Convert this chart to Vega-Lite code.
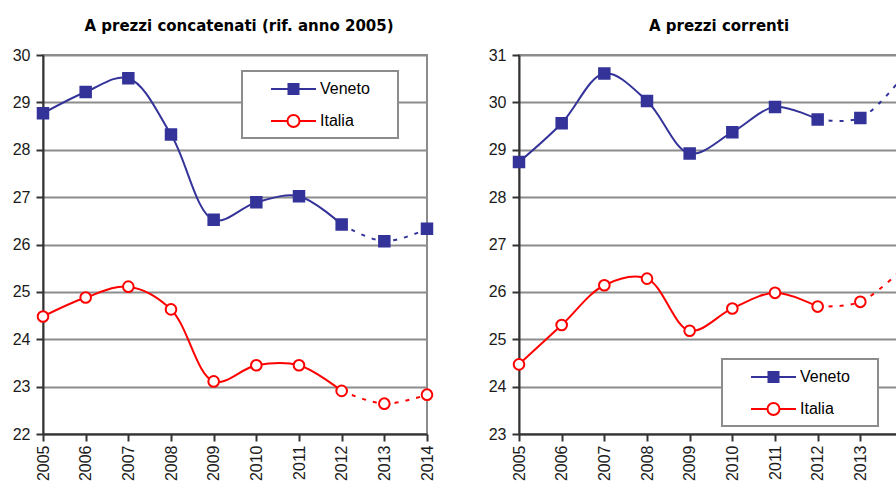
{
  "$schema": "https://vega.github.io/schema/vega-lite/v6.json",
  "padding": {"left": 11, "top": 18, "right": 0, "bottom": 0},
  "background": "white",
  "spacing": 49,
  "data": {"values": [
    {"panel": "conc", "series": "Veneto", "year": 2005, "value": 28.77},
    {"panel": "conc", "series": "Veneto", "year": 2006, "value": 29.22},
    {"panel": "conc", "series": "Veneto", "year": 2007, "value": 29.51},
    {"panel": "conc", "series": "Veneto", "year": 2008, "value": 28.32},
    {"panel": "conc", "series": "Veneto", "year": 2009, "value": 26.52},
    {"panel": "conc", "series": "Veneto", "year": 2010, "value": 26.89},
    {"panel": "conc", "series": "Veneto", "year": 2011, "value": 27.02},
    {"panel": "conc", "series": "Veneto", "year": 2012, "value": 26.42},
    {"panel": "conc", "series": "Veneto", "year": 2013, "value": 26.07},
    {"panel": "conc", "series": "Veneto", "year": 2014, "value": 26.33},
    {"panel": "conc", "series": "Italia", "year": 2005, "value": 24.48},
    {"panel": "conc", "series": "Italia", "year": 2006, "value": 24.88},
    {"panel": "conc", "series": "Italia", "year": 2007, "value": 25.11},
    {"panel": "conc", "series": "Italia", "year": 2008, "value": 24.63},
    {"panel": "conc", "series": "Italia", "year": 2009, "value": 23.11},
    {"panel": "conc", "series": "Italia", "year": 2010, "value": 23.45},
    {"panel": "conc", "series": "Italia", "year": 2011, "value": 23.45},
    {"panel": "conc", "series": "Italia", "year": 2012, "value": 22.91},
    {"panel": "conc", "series": "Italia", "year": 2013, "value": 22.64},
    {"panel": "conc", "series": "Italia", "year": 2014, "value": 22.83},
    {"panel": "corr", "series": "Veneto", "year": 2005, "value": 28.74},
    {"panel": "corr", "series": "Veneto", "year": 2006, "value": 29.56},
    {"panel": "corr", "series": "Veneto", "year": 2007, "value": 30.61},
    {"panel": "corr", "series": "Veneto", "year": 2008, "value": 30.03},
    {"panel": "corr", "series": "Veneto", "year": 2009, "value": 28.92},
    {"panel": "corr", "series": "Veneto", "year": 2010, "value": 29.37},
    {"panel": "corr", "series": "Veneto", "year": 2011, "value": 29.9},
    {"panel": "corr", "series": "Veneto", "year": 2012, "value": 29.64},
    {"panel": "corr", "series": "Veneto", "year": 2013, "value": 29.67},
    {"panel": "corr", "series": "Veneto", "year": 2014, "value": 30.55},
    {"panel": "corr", "series": "Italia", "year": 2005, "value": 24.47},
    {"panel": "corr", "series": "Italia", "year": 2006, "value": 25.3},
    {"panel": "corr", "series": "Italia", "year": 2007, "value": 26.14},
    {"panel": "corr", "series": "Italia", "year": 2008, "value": 26.28},
    {"panel": "corr", "series": "Italia", "year": 2009, "value": 25.18},
    {"panel": "corr", "series": "Italia", "year": 2010, "value": 25.65},
    {"panel": "corr", "series": "Italia", "year": 2011, "value": 25.98},
    {"panel": "corr", "series": "Italia", "year": 2012, "value": 25.69},
    {"panel": "corr", "series": "Italia", "year": 2013, "value": 25.79},
    {"panel": "corr", "series": "Italia", "year": 2014, "value": 26.5}
  ]},
  "resolve": {"legend": {"color": "independent"}},
  "config": {
    "view": {"stroke": "#8c8c8c", "strokeWidth": 2},
    "axis": {
      "labelFont": "Liberation Sans", "labelFontSize": 16, "labelColor": "#1a1a1a",
      "domainColor": "#333333", "domainWidth": 2,
      "tickColor": "#333333", "tickWidth": 2, "tickSize": 7,
      "gridColor": "#8c8c8c", "gridWidth": 2,
      "title": null
    },
    "title": {"font": "DejaVu Sans", "fontSize": 15, "fontWeight": "bold", "color": "#000000", "offset": 13, "anchor": "middle"}
  },
  "hconcat": [
    {
      "title": {"text": "A prezzi concatenati (rif. anno 2005)", "dx": 4},
      "width": 384, "height": 379,
      "transform": [{"filter": "datum.panel === 'conc'"}],
      "encoding": {
        "x": {"field": "year", "type": "ordinal", "scale": {"type": "point", "padding": 0}, "axis": {"labelAngle": -90, "labelPadding": 4, "grid": false}},
        "y": {"field": "value", "type": "quantitative", "scale": {"domain": [22, 30], "nice": false, "zero": false}, "axis": {"values": [22, 23, 24, 25, 26, 27, 28, 29, 30], "labelPadding": 6}}
      },
      "layer": [
        {
          "transform": [{"filter": "datum.year <= 2012"}],
          "mark": {"type": "line", "strokeWidth": 2, "interpolate": "catmull-rom"},
          "encoding": {
            "color": {"field": "series", "type": "nominal", "scale": {"domain": ["Veneto", "Italia"], "range": ["#333399", "#ff0000"]},
              "legend": {
                "orient": "none", "legendX": 199, "legendY": 16, "title": null,
                "padding": 7, "rowPadding": 12, "symbolOffset": 33.5, "labelOffset": 15.5,
                "labelFont": "Liberation Sans", "labelFontSize": 16, "labelColor": "#000000",
                "strokeColor": "#8c8c8c", "fillColor": "#ffffff", "symbolSize": 400, "symbolStrokeWidth": 2,
                "encode": {
                  "legend": {"update": {"strokeWidth": {"value": 2}}},
                  "symbols": {"update": {
                    "shape": {"signal": "datum.value === 'Veneto' ? 'M-2.25,0H2.25M-0.5,-0.5H0.5V0.5H-0.5ZM9.35,0' : 'M-2.25,0H-0.6M0.6,0H2.25M-0.6,0A0.6,0.6 0 1,1 0.6,0A0.6,0.6 0 1,1 -0.6,0ZM9.35,0'"},
                    "fill": {"signal": "datum.value === 'Veneto' ? '#333399' : '#ffffff'"},
                    "stroke": {"signal": "datum.value === 'Veneto' ? '#333399' : '#ff0000'"},
                    "strokeWidth": {"value": 2},
                    "size": {"value": 400},
                    "strokeDash": {"value": []},
                    "opacity": {"value": 1}
                  }}
                }
              }
            }
          }
        },
        {
          "transform": [{"filter": "datum.year >= 2012"}],
          "mark": {"type": "line", "strokeWidth": 2, "interpolate": "catmull-rom", "strokeDash": [4, 7]},
          "encoding": {
            "color": {"field": "series", "type": "nominal", "scale": {"domain": ["Veneto", "Italia"], "range": ["#333399", "#ff0000"]}, "legend": null}
          }
        },
        {
          "mark": {"type": "point", "opacity": 1, "strokeWidth": 2},
          "encoding": {
            "shape": {"field": "series", "type": "nominal", "scale": {"domain": ["Veneto", "Italia"], "range": ["square", "circle"]}, "legend": null},
            "size": {"condition": {"test": "datum.series === 'Veneto'", "value": 110}, "value": 113},
            "fill": {"condition": {"test": "datum.series === 'Veneto'", "value": "#333399"}, "value": "#ffffff"},
            "stroke": {"condition": {"test": "datum.series === 'Veneto'", "value": "#333399"}, "value": "#ff0000"}
          }
        }
      ]
    },
    {
      "title": {"text": "A prezzi correnti", "dx": 8},
      "width": 384, "height": 379,
      "transform": [{"filter": "datum.panel === 'corr'"}],
      "encoding": {
        "x": {"field": "year", "type": "ordinal", "scale": {"type": "point", "padding": 0}, "axis": {"labelAngle": -90, "labelPadding": 4, "grid": false}},
        "y": {"field": "value", "type": "quantitative", "scale": {"domain": [23, 31], "nice": false, "zero": false}, "axis": {"values": [23, 24, 25, 26, 27, 28, 29, 30, 31], "labelPadding": 6}}
      },
      "layer": [
        {
          "transform": [{"filter": "datum.year <= 2012"}],
          "mark": {"type": "line", "strokeWidth": 2, "interpolate": "catmull-rom"},
          "encoding": {
            "color": {"field": "series", "type": "nominal", "scale": {"domain": ["Veneto", "Italia"], "range": ["#333399", "#ff0000"]},
              "legend": {
                "orient": "none", "legendX": 203, "legendY": 304, "title": null,
                "padding": 7, "rowPadding": 12, "symbolOffset": 33.5, "labelOffset": 15.5,
                "labelFont": "Liberation Sans", "labelFontSize": 16, "labelColor": "#000000",
                "strokeColor": "#8c8c8c", "fillColor": "#ffffff", "symbolSize": 400, "symbolStrokeWidth": 2,
                "encode": {
                  "legend": {"update": {"strokeWidth": {"value": 2}}},
                  "symbols": {"update": {
                    "shape": {"signal": "datum.value === 'Veneto' ? 'M-2.25,0H2.25M-0.5,-0.5H0.5V0.5H-0.5ZM9.35,0' : 'M-2.25,0H-0.6M0.6,0H2.25M-0.6,0A0.6,0.6 0 1,1 0.6,0A0.6,0.6 0 1,1 -0.6,0ZM9.35,0'"},
                    "fill": {"signal": "datum.value === 'Veneto' ? '#333399' : '#ffffff'"},
                    "stroke": {"signal": "datum.value === 'Veneto' ? '#333399' : '#ff0000'"},
                    "strokeWidth": {"value": 2},
                    "size": {"value": 400},
                    "strokeDash": {"value": []},
                    "opacity": {"value": 1}
                  }}
                }
              }
            }
          }
        },
        {
          "transform": [{"filter": "datum.year >= 2012"}],
          "mark": {"type": "line", "strokeWidth": 2, "interpolate": "catmull-rom", "strokeDash": [4, 7]},
          "encoding": {
            "color": {"field": "series", "type": "nominal", "scale": {"domain": ["Veneto", "Italia"], "range": ["#333399", "#ff0000"]}, "legend": null}
          }
        },
        {
          "mark": {"type": "point", "opacity": 1, "strokeWidth": 2},
          "encoding": {
            "shape": {"field": "series", "type": "nominal", "scale": {"domain": ["Veneto", "Italia"], "range": ["square", "circle"]}, "legend": null},
            "size": {"condition": {"test": "datum.series === 'Veneto'", "value": 110}, "value": 113},
            "fill": {"condition": {"test": "datum.series === 'Veneto'", "value": "#333399"}, "value": "#ffffff"},
            "stroke": {"condition": {"test": "datum.series === 'Veneto'", "value": "#333399"}, "value": "#ff0000"}
          }
        }
      ]
    }
  ]
}
